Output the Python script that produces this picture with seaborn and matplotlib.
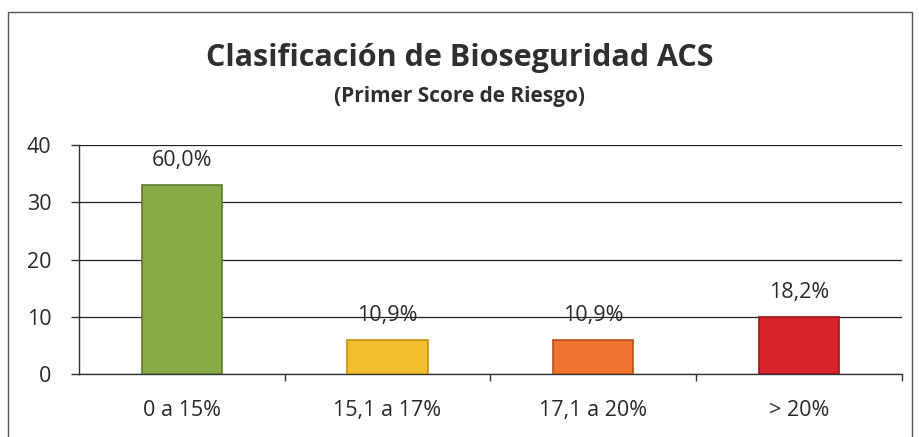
import matplotlib
matplotlib.use("Agg")
import matplotlib.pyplot as plt
from matplotlib.patches import Rectangle
import pandas as pd
import seaborn as sns

categories = ["0 a 15%", "15,1 a 17%", "17,1 a 20%", "> 20%"]
counts = [33, 6, 6, 10]
pct_labels = ["60,0%", "10,9%", "10,9%", "18,2%"]
bar_colors = ["#8aaa48", "#f4bf2e", "#ee7430", "#d8232b"]
edge_colors = ["#5d7a2c", "#c98f10", "#b8501a", "#9e1419"]

sns.set_theme(style="white")
plt.rcParams["font.family"] = ["Open Sans", "DejaVu Sans"]

df = pd.DataFrame({"categoria": categories, "n": counts})

fig = plt.figure(figsize=(9.19, 4.37), dpi=100)
ax = fig.add_axes([0.086, 0.144, 0.895, 0.524])

sns.barplot(data=df, x="categoria", y="n", hue="categoria", palette=bar_colors,
            width=0.39, legend=False, ax=ax, zorder=3, saturation=1)
for patch, ec in zip(ax.patches, edge_colors):
    patch.set_edgecolor(ec)
    patch.set_linewidth(1.2)

ax.set_ylim(0, 40)
ax.set_xlim(-0.5, 3.5)
ax.set_yticks([0, 10, 20, 30, 40])
ax.yaxis.grid(True, color="#222222", linewidth=0.9, zorder=0)
ax.set_axisbelow(True)

for i, (v, lab) in enumerate(zip(counts, pct_labels)):
    ax.text(i, v + 4.3, lab, ha="center", va="center", fontsize=15.5, color="#2a2a2a", zorder=4)

ax.set_xticks([0.5, 1.5, 2.5, 3.5], minor=True)
ax.tick_params(axis="x", which="major", length=0, labelsize=15.5, pad=19, colors="#2a2a2a")
ax.tick_params(axis="x", which="minor", length=5, width=1, color="#333333", bottom=True)
ax.tick_params(axis="y", which="major", length=6, width=1, color="#333333", left=True,
               labelsize=15.5, pad=14, labelcolor="#2a2a2a")
ax.set_xlabel("")
ax.set_ylabel("")

for side in ["top", "right"]:
    ax.spines[side].set_visible(False)
for side in ["left", "bottom"]:
    ax.spines[side].set_color("#333333")
    ax.spines[side].set_linewidth(1)

fig.text(0.5, 0.867, "Clasificación de Bioseguridad ACS", ha="center", va="center",
         fontsize=22, fontweight="bold", color="#2f2f2f")
fig.text(0.5, 0.78, "(Primer Score de Riesgo)", ha="center", va="center",
         fontsize=15, fontweight="bold", color="#2f2f2f")

fig.patches.append(Rectangle((0.009, -0.01), 0.983, 0.983, transform=fig.transFigure,
                             fill=False, edgecolor="#555555", linewidth=1))

fig.savefig("out.png", dpi=100)
